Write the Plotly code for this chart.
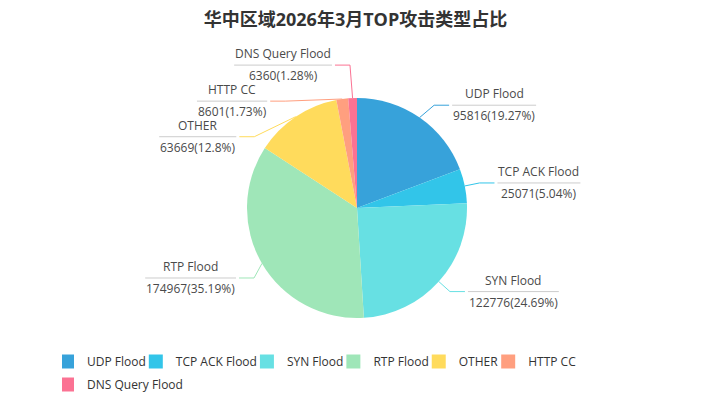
import math
import plotly.graph_objects as go

# ---------------- data ----------------
categories = ["UDP Flood", "TCP ACK Flood", "SYN Flood", "RTP Flood", "OTHER", "HTTP CC", "DNS Query Flood"]
values = [95816, 25071, 122776, 174967, 63669, 8601, 6360]
colors = ["#37A2DA", "#32C5E9", "#67E0E3", "#9FE6B8", "#FFDB5C", "#ff9f7f", "#fb7293"]
title_text = "华中区域2026年3月TOP攻击类型占比"

# ---------------- layout / style ----------------
W, H = 711, 399
CX, CY, R = 357, 208, 110          # pie centre / radius in px
LEN1, LEN2, GAP = 15, 15, 3         # label line segment lengths
# label overlap-avoidance nudges (px) applied to the computed elbow points
label_nudge = [(6, 0), (0, 0), (0, 0), (5, 7), (-33, 32.5), (-55, 17), (-2, -18)]
legend_row = [0, 0, 0, 0, 0, 0, 1]
FONT = "Open Sans, Noto Sans CJK SC, sans-serif"
TEXT_COLOR = "#4a4a4a"

# approximate Open Sans advance widths (em)
_cw = {" ": 0.26, "(": 0.295, ")": 0.295, ".": 0.266, "%": 0.828,
       "A": 0.633, "C": 0.631, "D": 0.722, "E": 0.556, "F": 0.516, "H": 0.738,
       "K": 0.597, "N": 0.756, "O": 0.781, "P": 0.588, "Q": 0.781, "R": 0.613,
       "S": 0.536, "T": 0.557, "U": 0.734, "Y": 0.549,
       "d": 0.613, "e": 0.561, "l": 0.253, "o": 0.604, "r": 0.408, "u": 0.613, "y": 0.501}


def text_w(s, size=12):
    return sum(_cw.get(ch, 0.572) for ch in s) * size


def fmt_pct(p):
    s = "%.2f" % p
    return s.rstrip("0").rstrip(".")


total = sum(values)

fig = go.Figure()
fig.add_trace(go.Pie(
    labels=categories, values=values,
    marker=dict(colors=colors, line=dict(width=0)),
    sort=False, direction="clockwise", rotation=0,
    textinfo="none", showlegend=False,
    hovertemplate="%{label}<br>%{value} (%{percent})<extra></extra>",
    domain=dict(x=[(CX - R) / W, (CX + R) / W], y=[(H - CY - R) / H, (H - CY + R) / H]),
))

# legend entries (two rows, like the original)
for cat, col, row in zip(categories, colors, legend_row):
    fig.add_trace(go.Scatter(
        x=[None], y=[None], mode="markers", name=cat,
        marker=dict(symbol="square", size=14, color=col),
        legend="legend" if row == 0 else "legend2", hoverinfo="skip",
    ))

annotations = []
shapes = []
start = 0.0
for i, (cat, v, col) in enumerate(zip(categories, values, colors)):
    span = v / total * 360.0
    mid = math.radians(start + span / 2)
    start += span
    sx, cy_ = math.sin(mid), math.cos(mid)
    ex, ey = CX + R * sx, CY - R * cy_
    ndx, ndy = label_nudge[i]
    kx, ky = CX + (R + LEN1) * sx + ndx, CY - (R + LEN1) * cy_ + ndy
    right = sx >= 0
    endx = kx + LEN2 if right else kx - LEN2
    pct = fmt_pct(v / total * 100)
    val_txt = f"{v}({pct}%)"
    bw = max(text_w(cat), text_w(val_txt)) + 2
    if right:
        bx0 = endx + GAP
        bx1 = bx0 + bw
    else:
        bx1 = endx - GAP
        bx0 = bx1 - bw
    bc = (bx0 + bx1) / 2
    shapes.append(dict(type="path", xref="x", yref="y",
                       path=f"M {ex:.2f},{ey:.2f} L {kx:.2f},{ky:.2f} L {endx:.2f},{ky:.2f}",
                       line=dict(color=col, width=1)))
    shapes.append(dict(type="line", xref="x", yref="y", x0=bx0, x1=bx1, y0=ky, y1=ky,
                       line=dict(color="#cccccc", width=1)))
    annotations.append(dict(x=bc, y=ky - 11.5, xref="x", yref="y", text=cat, showarrow=False,
                            xanchor="center", yanchor="middle",
                            font=dict(size=12, color=TEXT_COLOR, family=FONT)))
    annotations.append(dict(x=bc, y=ky + 10.5, xref="x", yref="y", text=val_txt, showarrow=False,
                            xanchor="center", yanchor="middle",
                            font=dict(size=12, color=TEXT_COLOR, family=FONT)))

legend_common = dict(orientation="h", xanchor="left", yanchor="top",
                     font=dict(size=12, color="#333333", family=FONT),
                     bgcolor="rgba(0,0,0,0)", borderwidth=0, indentation=-15,
                     itemclick=False, itemdoubleclick=False)

fig.update_layout(
    width=W, height=H,
    margin=dict(l=0, r=0, t=0, b=0),
    paper_bgcolor="white", plot_bgcolor="white",
    title=dict(text=f"<b>{title_text}</b>", x=0.5, xref="container", xanchor="center",
               y=1 - 20 / H, yref="container", yanchor="middle",
               font=dict(size=18, color="#333333", family=FONT)),
    xaxis=dict(range=[0, W], visible=False, fixedrange=True),
    yaxis=dict(range=[H, 0], visible=False, fixedrange=True),
    annotations=annotations,
    shapes=shapes,
    legend=dict(x=62 / W, y=1 - 347 / H, **legend_common),
    legend2=dict(x=62 / W, y=1 - 370 / H, **legend_common),
    showlegend=True,
)

fig.write_html("out.html", config={"displayModeBar": False},
               post_script="document.body.style.margin='0';")
